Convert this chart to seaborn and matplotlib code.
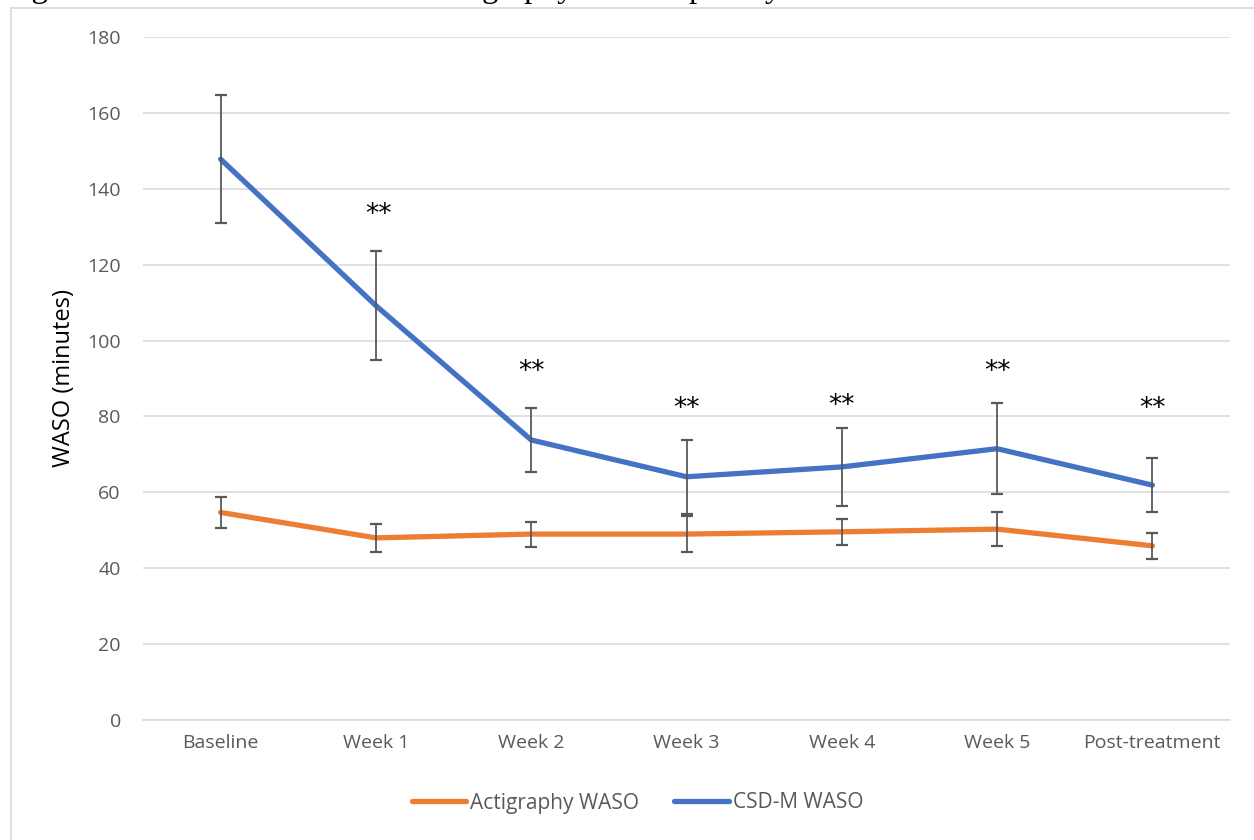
import numpy as np
import pandas as pd
import matplotlib
matplotlib.use("Agg")
import matplotlib.pyplot as plt
from matplotlib.lines import Line2D
import seaborn as sns

categories = ["Baseline", "Week 1", "Week 2", "Week 3", "Week 4", "Week 5", "Post-treatment"]
act_mean = [54.7, 48.0, 49.0, 49.0, 49.6, 50.3, 45.9]
act_err = [4.0, 3.75, 3.3, 4.8, 3.5, 4.4, 3.5]
csd_mean = [147.8, 109.2, 73.8, 64.1, 66.7, 71.5, 61.9]
csd_err = [16.9, 14.4, 8.4, 9.8, 10.2, 12.0, 7.2]
sig_y = [None, 135.4, 94.2, 84.2, 85.0, 94.0, 84.2]
series_names = ["Actigraphy WASO", "CSD-M WASO"]
y_ticks = [0, 20, 40, 60, 80, 100, 120, 140, 160, 180]
title_text = "Figure 4. WASO measured with actigraphy and sleep diary across CBT-I sessions"

ORANGE = "#ED7D31"
BLUE = "#4472C4"
GRAY_TXT = "#595959"
GRID = "#D9D9D9"

df = pd.DataFrame({
    "Session": categories * 2,
    "WASO": act_mean + csd_mean,
    "Measure": [series_names[0]] * len(categories) + [series_names[1]] * len(categories),
})

sns.set_theme(style="white")
plt.rcParams["font.family"] = ["Open Sans", "DejaVu Sans"]

fig = plt.figure(figsize=(12.54, 8.4), dpi=100)
ax = fig.add_axes([143 / 1254, 1 - 720 / 840, (1230 - 143) / 1254, (720 - 37) / 840])

sns.lineplot(data=df, x="Session", y="WASO", hue="Measure", sort=False,
             palette={series_names[0]: ORANGE, series_names[1]: BLUE},
             linewidth=3.8, ax=ax, legend=True, zorder=3)
for ln in ax.lines:
    ln.set_solid_capstyle("round")
    ln.set_solid_joinstyle("round")

x = np.arange(len(categories))
for m, e in [(act_mean, act_err), (csd_mean, csd_err)]:
    ax.errorbar(x, m, yerr=e, fmt="none", ecolor="#595959", elinewidth=1.3,
                capsize=4.5, capthick=1.6, zorder=4)

for i, yv in enumerate(sig_y):
    if yv is not None:
        ax.annotate("**", xy=(x[i], yv), xytext=(2 if i == 1 else 0, -11.5),
                    textcoords="offset points",
                    ha="center", va="baseline", fontsize=19,
                    family=["DejaVu Sans"], color="black")

ax.set_xlim(-0.5, len(categories) - 0.5)
ax.set_ylim(0, 180)
ax.set_yticks(y_ticks)
ax.set_xticks(x)
ax.set_xticklabels(categories)
ax.yaxis.grid(True, color=GRID, linewidth=1.1)
ax.xaxis.grid(False)
ax.set_axisbelow(True)
for s in ["top", "right", "left"]:
    ax.spines[s].set_visible(False)
ax.spines["bottom"].set_color(GRID)
ax.spines["bottom"].set_linewidth(1.1)
ax.tick_params(axis="both", length=0, labelsize=14, colors=GRAY_TXT)
ax.tick_params(axis="y", pad=16)
ax.tick_params(axis="x", pad=10)
ax.set_xlabel("")
ax.set_ylabel("WASO (minutes)", fontsize=17, color="black", labelpad=8)

handles, labels = ax.get_legend_handles_labels()
leg = ax.legend(handles, labels, loc="center", bbox_to_anchor=(637.5 / 1254, 1 - 803 / 840),
                bbox_transform=fig.transFigure, ncol=2,
                frameon=False, fontsize=15, handlelength=2.6, handletextpad=0.2,
                columnspacing=1.7, labelcolor=GRAY_TXT)
for h in leg.get_lines():
    h.set_linewidth(3.8)
    h.set_solid_capstyle("round")

# chart frame
fig.add_artist(Line2D([10.5 / 1254, 10.5 / 1254], [-0.1, 1 - 7.5 / 840], color=GRID, lw=1.2))
fig.add_artist(Line2D([10.5 / 1254, 1.1], [1 - 7.5 / 840, 1 - 7.5 / 840], color=GRID, lw=1.2))

# caption partly cut off at the top (as in the reference)
fig.text(4 / 1254, 1 + 3 / 840, title_text, ha="left", va="baseline", fontsize=23.8,
         family=["Liberation Serif", "DejaVu Serif"], color="black")

fig.savefig("out.png", dpi=100, facecolor="white")
